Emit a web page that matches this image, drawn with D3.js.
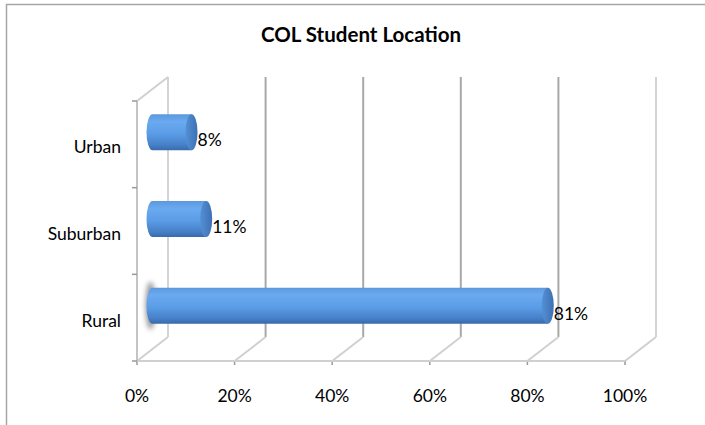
<!DOCTYPE html>
<html><head><meta charset="utf-8">
<script src="https://cdn.jsdelivr.net/npm/d3@7"></script>
<style>body{margin:0;background:#fff}svg{display:block}</style>
</head><body>
<svg id="c" width="705" height="425"></svg>
<script>
const title = "COL Student Location";
const categories = ["Urban", "Suburban", "Rural"];
const values = [0.08, 0.11, 0.81];
const valueLabels = ["8%", "11%", "81%"];
const ticks = [0, 0.2, 0.4, 0.6, 0.8, 1.0];
const tickLabels = ["0%", "20%", "40%", "60%", "80%", "100%"];

const svg = d3.select("#c");
const font = "Lato, 'Open Sans', 'Liberation Sans', sans-serif";
const DX = 31, DY = -24;

const x = d3.scaleLinear().domain([0, 1]).range([137, 625]);
const y = d3.scaleBand().domain(categories).range([101, 361]).padding(0);

const defs = svg.append("defs");
const g1 = defs.append("linearGradient").attr("id", "cyl").attr("x1", 0).attr("y1", 0).attr("x2", 0).attr("y2", 1);
g1.append("stop").attr("offset", "0%").attr("stop-color", "#5d98dc");
g1.append("stop").attr("offset", "20%").attr("stop-color", "#6aaaf0");
g1.append("stop").attr("offset", "55%").attr("stop-color", "#5a9ce6");
g1.append("stop").attr("offset", "85%").attr("stop-color", "#4680c8");
g1.append("stop").attr("offset", "100%").attr("stop-color", "#3a6aa8");
const g2 = defs.append("linearGradient").attr("id", "cap").attr("x1", 0).attr("y1", 0).attr("x2", 1).attr("y2", 0);
g2.append("stop").attr("offset", "0%").attr("stop-color", "#5590d4");
g2.append("stop").attr("offset", "100%").attr("stop-color", "#3d70b4");
defs.append("filter").attr("id", "blur").attr("x", "-100%").attr("y", "-50%").attr("width", "300%").attr("height", "200%")
  .append("feGaussianBlur").attr("stdDeviation", 2.5);

// outer frame
svg.append("path").attr("d", "M6.5,425 L6.5,4.5 L705,4.5").attr("fill", "none").attr("stroke", "#a6a6a6").attr("stroke-width", 1.5);

// title
svg.append("text").attr("x", 361).attr("y", 42).attr("text-anchor", "middle")
  .attr("font-family", font).attr("font-weight", "bold").attr("font-size", 20.5).attr("fill", "#000").text(title);

const grid = svg.append("g").attr("fill", "none");
const top0 = y.range()[0], bot0 = y.range()[1];
// back wall vertical gridlines
ticks.forEach((t, i) => {
  const bx = x(t) + DX;
  grid.append("line").attr("x1", bx).attr("x2", bx).attr("y1", top0 + DY).attr("y2", bot0 + DY)
    .attr("stroke", (i === 0 || i === ticks.length - 1) ? "#d4d4d4" : "#a8a8a8").attr("stroke-width", 2);
  // floor diagonals
  grid.append("line").attr("x1", x(t)).attr("y1", bot0).attr("x2", bx).attr("y2", bot0 + DY)
    .attr("stroke", "#d0d0d0").attr("stroke-width", 2);
  // tick marks below floor
  grid.append("line").attr("x1", x(t)).attr("x2", x(t)).attr("y1", bot0).attr("y2", bot0 + 4)
    .attr("stroke", "#999").attr("stroke-width", 1.5);
});
// floor front line
grid.append("line").attr("x1", x(0)).attr("x2", x(1)).attr("y1", bot0).attr("y2", bot0).attr("stroke", "#d0d0d0").attr("stroke-width", 2);
// left wall
grid.append("line").attr("x1", x(0)).attr("x2", x(0)).attr("y1", top0).attr("y2", bot0).attr("stroke", "#c4c4c4").attr("stroke-width", 2);
grid.append("line").attr("x1", x(0)).attr("y1", top0).attr("x2", x(0) + DX).attr("y2", top0 + DY).attr("stroke", "#d0d0d0").attr("stroke-width", 2);
// left axis ticks at category boundaries
const bounds = categories.map(c => y(c)).concat([bot0]);
bounds.forEach(b => {
  grid.append("line").attr("x1", x(0) - 5).attr("x2", x(0)).attr("y1", b).attr("y2", b).attr("stroke", "#999").attr("stroke-width", 1.5);
});

// x tick labels
svg.append("g").selectAll("text").data(ticks).join("text")
  .attr("x", d => x(d)).attr("y", 402).attr("text-anchor", "middle")
  .attr("font-family", font).attr("font-size", 17.5).attr("fill", "#000")
  .text((d, i) => tickLabels[i]);

// category labels
svg.append("g").selectAll("text").data(categories).join("text")
  .attr("x", 121).attr("y", d => y(d) + y.bandwidth() / 2 + 9).attr("text-anchor", "end")
  .attr("font-family", font).attr("font-size", 17.5).attr("fill", "#000").text(d => d);

// bars (cylinders) at mid-depth
const bh = 36, rx = 6;
const bars = svg.append("g");
categories.forEach((c, i) => {
  const cy = y(c) + y.bandwidth() / 2 + DY / 2;
  const x0 = x(0) + DX / 2, x1 = x(values[i]) + DX / 2;
  const g = bars.append("g");
  if (c === "Rural") {
    g.append("ellipse").attr("cx", x0 - 2).attr("cy", cy).attr("rx", 5).attr("ry", bh / 2 + 6)
      .attr("fill", "#555").attr("opacity", 0.6).attr("filter", "url(#blur)");
  }
  g.append("path")
    .attr("d", `M${x0},${cy - bh / 2} L${x1},${cy - bh / 2} L${x1},${cy + bh / 2} L${x0},${cy + bh / 2} A${rx},${bh / 2} 0 0 1 ${x0},${cy - bh / 2} Z`)
    .attr("fill", "url(#cyl)");
  g.append("ellipse").attr("cx", x1).attr("cy", cy).attr("rx", rx).attr("ry", bh / 2)
    .attr("fill", "url(#cap)");
  svg.append("text").attr("x", x1 + rx).attr("y", cy + 14)
    .attr("font-family", font).attr("font-size", 17.5).attr("fill", "#000").text(valueLabels[i]);
});
</script>
</body></html>
